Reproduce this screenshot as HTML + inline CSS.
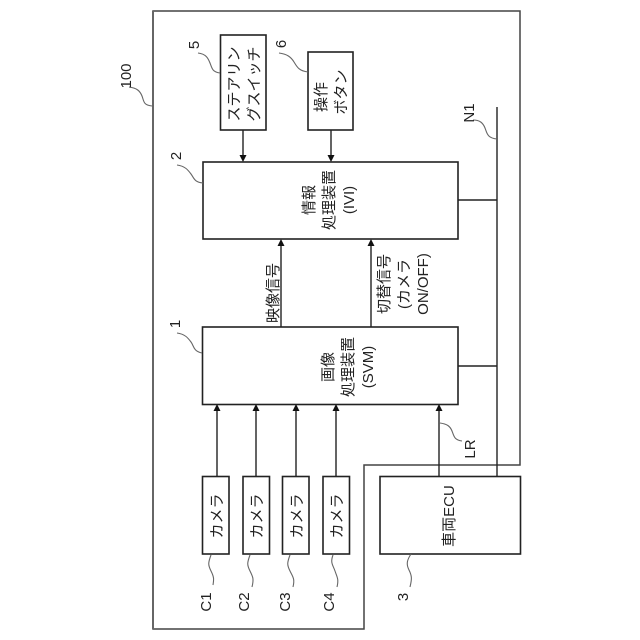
<!DOCTYPE html>
<html><head><meta charset="utf-8">
<style>
html,body{margin:0;padding:0;background:#fff;width:640px;height:640px;overflow:hidden}
svg{display:block}
text{font-family:"Liberation Sans","Noto Sans CJK JP",sans-serif;font-size:15px;fill:#222;text-anchor:middle;dominant-baseline:central}
.b{fill:#fff;stroke:#222;stroke-width:1.6}
.l{stroke:#222;stroke-width:1.4;fill:none}
.s{stroke:#666;stroke-width:1.1;fill:none}
.a{fill:#111;stroke:none}
</style></head><body>
<svg width="640" height="640" viewBox="0 0 640 640" xmlns="http://www.w3.org/2000/svg">
<path d="M153 11H520V465H364V629H153Z" fill="#fff" stroke="#444" stroke-width="1.5"/>
<path d="M153 11V629" stroke="#666" stroke-width="2" fill="none"/>

<!-- connectors -->
<path class="l" d="M497 107V476M458 200H497M458 366H497"/>
<path class="l" d="M243 130V156M331 130V156M281 327V245M371 327V245M217 476V410M256 476V410M296 476V410M336 476V410M439 476V410"/>
<path class="a" d="M243 162l-3.500-7h7zM331 162l-3.500-7h7zM281 239l-3.500 7h7zM371 239l-3.500 7h7zM217 404l-3.500 7h7zM256 404l-3.500 7h7zM296 404l-3.500 7h7zM336 404l-3.500 7h7zM439 404l-3.500 7h7z"/>

<!-- boxes -->
<rect class="b" x="220.500" y="35" width="45.500" height="95"/>
<rect class="b" x="308" y="52" width="45" height="78"/>
<rect class="b" x="203" y="162" width="255" height="77"/>
<rect class="b" x="202.500" y="327" width="255.500" height="77.500"/>
<rect class="b" x="202.500" y="476.500" width="26.500" height="77.500"/>
<rect class="b" x="243" y="476.500" width="26.500" height="77.500"/>
<rect class="b" x="282.500" y="476.500" width="26.500" height="77.500"/>
<rect class="b" x="323" y="476.500" width="26.500" height="77.500"/>
<rect class="b" x="380" y="476.500" width="140.500" height="77.500"/>

<!-- squiggles -->
<path class="s" d="M198 53c8 1 10 5 12 10s2 9 10 10"/>
<path class="s" d="M279 53c8 1 12 4 15 9s5 9 14 10"/>
<path class="s" d="M177 165c8 1 11 5 14 9s3 8 12 9"/>
<path class="s" d="M177 333c8 1 11 5 14 9s2 9 11 11"/>
<path class="s" d="M129 87c8 1 11 4 13 9s1 9 10 10"/>
<path class="s" d="M473 120c7 0 10 3 12 8s2 10 12 11"/>
<path class="s" d="M440 423c7 1 10 3 12 8s2 9 10 10"/>
<path class="s" d="M411 554c-4 6-5 10-2 16s3 9 1 17"/>
<path class="s" d="M211 555c-3 8-3 10 0 16s3 8 2 14"/>
<path class="s" d="M250 555c-3 8-3 10 0 16s4 8 2 16"/>
<path class="s" d="M290 555c-3 8-3 10 0 16s5 8 3 16"/>
<path class="s" d="M333 555c-3 8 0 10 2 16s4 8 2 16"/>

<g transform="translate(1.500,0)">
<!-- box labels -->
<text transform="translate(233,84) rotate(-90)">ステアリン</text>
<text transform="translate(253,84) rotate(-90)">グスイッチ</text>
<text transform="translate(320,97) rotate(-90)">操作</text>
<text transform="translate(340,92) rotate(-90)">ボタン</text>
<text transform="translate(308,200) rotate(-90)">情報</text>
<text transform="translate(328,200) rotate(-90)">処理装置</text>
<text transform="translate(348,200) rotate(-90)">(IVI)</text>
<text transform="translate(327,367) rotate(-90)">画像</text>
<text transform="translate(347,367) rotate(-90)">処理装置</text>
<text transform="translate(367,367) rotate(-90)">(SVM)</text>
<text transform="translate(272,293) rotate(-90)">映像信号</text>
<text transform="translate(383,284) rotate(-90)">切替信号</text>
<text transform="translate(403,284) rotate(-90)">(カメラ</text>
<text transform="translate(422,284) rotate(-90)">ON/OFF)</text>
<text transform="translate(216,516) rotate(-90)">カメラ</text>
<text transform="translate(256,516) rotate(-90)">カメラ</text>
<text transform="translate(296,516) rotate(-90)">カメラ</text>
<text transform="translate(336,516) rotate(-90)">カメラ</text>
<text transform="translate(448,516) rotate(-90)">車両ECU</text>

<!-- reference labels -->
<text transform="translate(193,45) rotate(-90)">5</text>
<text transform="translate(280,44) rotate(-90)">6</text>
<text transform="translate(175,156) rotate(-90)">2</text>
<text transform="translate(174,324) rotate(-90)">1</text>
<text transform="translate(125,76) rotate(-90)">100</text>
<text transform="translate(205,602) rotate(-90)">C1</text>
<text transform="translate(243,602) rotate(-90)">C2</text>
<text transform="translate(284,602) rotate(-90)">C3</text>
<text transform="translate(328,602) rotate(-90)">C4</text>
<text transform="translate(402,597) rotate(-90)">3</text>
<text transform="translate(469,449) rotate(-90)">LR</text>
<text transform="translate(468,113) rotate(-90)">N1</text>
</g>
</svg>
</body></html>
